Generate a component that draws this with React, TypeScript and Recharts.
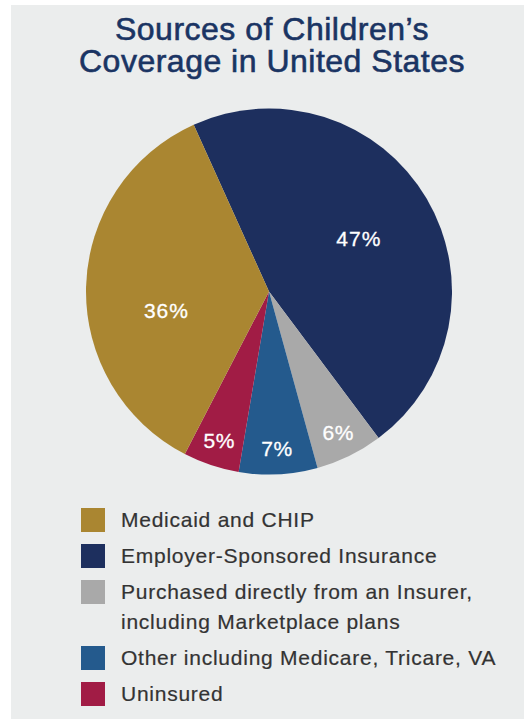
import React from 'react';
import { PieChart, Pie, Cell } from 'recharts';

// pie order, clockwise from the upper-left boundary
const categories = [
  'Employer-Sponsored Insurance',
  'Purchased directly from an Insurer, including Marketplace plans',
  'Other including Medicare, Tricare, VA',
  'Uninsured',
  'Medicaid and CHIP',
];
const shares = [47, 6, 7, 5, 36];
const colors = ['#1d2f5e', '#a9a9a9', '#245a8d', '#a11c45', '#aa8631'];
const legendOrder = [4, 0, 1, 2, 3];

const chartData = categories.map((name, i) => ({ name, value: shares[i] }));

const RAD = Math.PI / 180;
const START = 114.3;

const renderLabel = (props: any) => {
  const { cx, cy, midAngle, outerRadius, percent, value } = props;
  const big = percent > 0.2;
  const r = big ? outerRadius * 0.57 : outerRadius * 0.86;
  // the big left label sits a bit below the slice middle
  const angle = big && Math.cos(midAngle * RAD) < 0 ? midAngle + 12 : midAngle;
  const x = cx + r * Math.cos(-angle * RAD);
  const y = cy + r * Math.sin(-angle * RAD);
  return (
    <text
      x={x}
      y={y}
      fill="#ffffff"
      textAnchor="middle"
      dominantBaseline="central"
      fontFamily="'Liberation Sans', Arial, sans-serif"
      fontSize={21}
      letterSpacing={big ? 1 : 0.5}
      stroke="#ffffff"
      strokeWidth={0.3}
    >
      {`${value}%`}
    </text>
  );
};

const App: React.FC = () => {
  const font = "'Liberation Sans', Arial, Helvetica, sans-serif";
  return (
    <div style={{ position: 'absolute', left: 0, top: 0, width: 524, height: 719, background: '#ffffff', fontFamily: font }}>
      <div style={{ position: 'absolute', left: 11, top: 5, width: 513, height: 714, background: '#ebeded' }} />
      <div
        style={{
          position: 'absolute',
          left: 22,
          top: 13,
          width: 500,
          textAlign: 'center',
          color: '#1a3463',
          fontSize: 32,
          lineHeight: '32px',
          letterSpacing: 0.5,
          WebkitTextStroke: '0.6px #1a3463',
        }}
      >
        Sources of Children’s
        <br />
        Coverage in United States
      </div>
      <div style={{ position: 'absolute', left: 0, top: 0 }}>
        <PieChart width={524} height={500} margin={{ top: 0, right: 0, bottom: 0, left: 0 }}>
          <Pie
            data={chartData}
            dataKey="value"
            nameKey="name"
            cx={269}
            cy={291.5}
            outerRadius={183}
            startAngle={START}
            endAngle={START - 360}
            stroke="none"
            label={renderLabel}
            labelLine={false}
            isAnimationActive={false}
          >
            {chartData.map((entry, i) => (
              <Cell key={`cell-${i}`} fill={colors[i]} />
            ))}
          </Pie>
        </PieChart>
      </div>
      <div style={{ position: 'absolute', left: 81, top: 505 }}>
        {legendOrder.map(i => (
          <div key={categories[i]} style={{ display: 'flex', alignItems: 'flex-start', marginBottom: 6 }}>
            <div style={{ width: 24, height: 24, marginTop: 3, background: colors[i], flex: '0 0 24px' }} />
            <div
              style={{
                marginLeft: 16,
                width: 395,
                fontSize: 21,
                lineHeight: '30px',
                color: '#333333',
                letterSpacing: 0.75,
                WebkitTextStroke: '0.2px #333333',
              }}
            >
              {categories[i]}
            </div>
          </div>
        ))}
      </div>
    </div>
  );
};

export default App;
